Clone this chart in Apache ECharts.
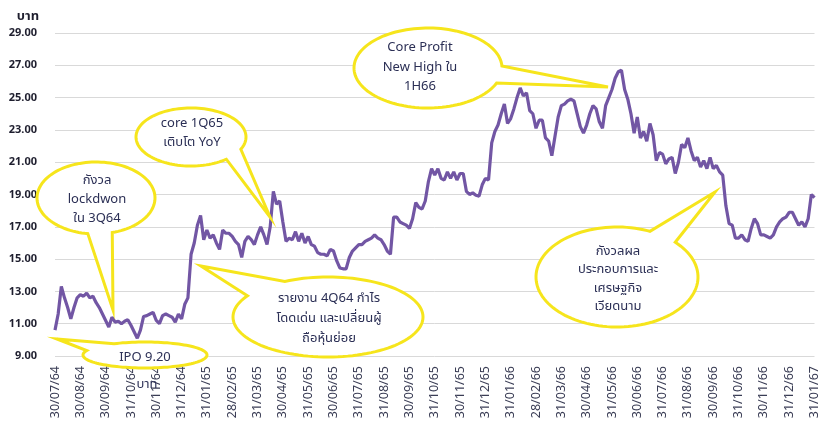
<!DOCTYPE html>
<html>
<head>
<meta charset="utf-8">
<script src="https://cdn.jsdelivr.net/npm/echarts@6/dist/echarts.min.js"></script>
<style>
  html, body { margin: 0; padding: 0; background: #fff; }
  #main { width: 821px; height: 424px; }
</style>
</head>
<body>
<div id="main"></div>
<script>
var dom = document.getElementById('main');
var myChart = echarts.init(dom, null, { renderer: 'canvas' });

// month-end tick labels (Thai Buddhist year)
var monthLabels = ['30/07/64', '30/08/64', '30/09/64', '31/10/64', '30/11/64', '31/12/64',
    '31/01/65', '28/02/65', '31/03/65', '30/04/65', '31/05/65', '30/06/65', '31/07/65',
    '31/08/65', '30/09/65', '31/10/65', '30/11/65', '31/12/65', '31/01/66', '28/02/66',
    '31/03/66', '30/04/66', '31/05/66', '30/06/66', '31/07/66', '31/08/66', '30/09/66',
    '31/10/66', '30/11/66', '31/12/66', '31/01/67'];

// 8 readings per month
var stepsPerMonth = 8;
var prices = [
    10.6, 11.6, 13.3, 12.6, 12.0, 11.3, 12.0, 12.6, 12.8, 12.7,
    12.9, 12.6, 12.7, 12.3, 12.0, 11.6, 11.2, 10.8, 11.4, 11.1,
    11.15, 11.0, 11.15, 11.25, 10.9, 10.5, 10.1, 10.6, 11.45, 11.5,
    11.6, 11.7, 11.2, 11.0, 11.5, 11.6, 11.5, 11.4, 11.1, 11.6,
    11.3, 12.2, 12.6, 15.3, 16.0, 17.1, 17.7, 16.2, 16.8, 16.3,
    16.5, 16.0, 15.6, 16.8, 16.6, 16.6, 16.4, 16.1, 15.9, 15.1,
    16.1, 16.4, 16.2, 15.9, 16.5, 17.0, 16.5, 15.9, 17.0, 19.2,
    18.4, 18.6, 17.3, 16.1, 16.3, 16.2, 16.7, 16.1, 16.6, 16.0,
    16.4, 15.9, 15.8, 15.4, 15.3, 15.3, 15.2, 15.6, 15.5, 14.9,
    14.45, 14.4, 14.4, 15.1, 15.5, 15.7, 15.9, 15.9, 16.1, 16.2,
    16.3, 16.5, 16.3, 16.2, 15.9, 15.5, 15.3, 17.6, 17.6, 17.3,
    17.2, 17.1, 16.9, 17.5, 18.5, 18.2, 18.1, 18.6, 19.8, 20.6,
    20.2, 20.6, 20.0, 19.9, 20.4, 20.0, 20.4, 19.9, 20.3, 20.3,
    19.2, 19.0, 19.1, 18.95, 18.9, 19.6, 20.0, 19.9, 22.2, 22.9,
    23.3, 24.0, 24.6, 23.4, 23.7, 24.3, 25.0, 25.6, 25.1, 25.3,
    24.2, 24.0, 23.1, 23.6, 23.6, 22.5, 22.3, 21.4, 22.6, 23.8,
    24.5, 24.6, 24.8, 24.9, 24.8, 24.0, 23.2, 22.8, 23.3, 24.0,
    24.5, 24.3, 23.5, 23.1, 24.5, 25.0, 25.5, 26.2, 26.6, 26.7,
    25.5, 24.9, 24.0, 22.8, 23.8, 22.5, 22.9, 22.3, 23.4, 22.7,
    21.1, 21.6, 21.5, 20.9, 21.2, 21.3, 20.3, 21.0, 22.1, 21.9,
    22.5, 21.7, 21.1, 21.3, 20.7, 21.1, 20.6, 21.3, 20.6, 20.8,
    20.4, 20.2, 18.3, 17.2, 17.1, 16.3, 16.3, 16.5, 16.2, 16.1,
    16.9, 17.5, 17.2, 16.5, 16.5, 16.4, 16.3, 16.5, 17.0, 17.3,
    17.5, 17.6, 17.9, 17.9, 17.5, 17.1, 17.3, 17.0, 17.5, 19.0,
    18.8
];

var categories = prices.map(function (v, i) {
    return i % stepsPerMonth === 0 ? monthLabels[i / stepsPerMonth] : 'd' + i;
});

var FONT = '"Noto Sans", "Noto Sans Thai", "DejaVu Sans", sans-serif';
var textColor = '#2b2f55';
var yellow = '#f6e51c';

// speech bubble: ellipse + tail towards tip (angles in degrees, screen coords)
function bubble(cx, cy, rx, ry, tip, a1, a2) {
    var pts = [tip];
    for (var a = a2; a <= a1 + 360; a += 3) {
        var r = a * Math.PI / 180;
        pts.push([cx + rx * Math.cos(r), cy + ry * Math.sin(r)]);
    }
    var r1 = a1 * Math.PI / 180;
    pts.push([cx + rx * Math.cos(r1), cy + ry * Math.sin(r1)]);
    return {
        type: 'polygon',
        shape: { points: pts },
        style: { fill: '#fff', stroke: yellow, lineWidth: 3 },
        z: 10
    };
}

function note(x, y, text, lh) {
    return {
        type: 'text', x: x, y: y, z: 11,
        style: {
            text: text, font: '13px ' + FONT, fill: textColor,
            align: 'center', verticalAlign: 'middle', lineHeight: lh || 19
        }
    };
}

var option = {
    animation: false,
    grid: { left: 55, right: 1, top: 33, bottom: 68 },
    xAxis: {
        type: 'category',
        boundaryGap: false,
        data: categories,
        axisLine: { show: false },
        axisTick: { show: false },
        splitLine: { show: false },
        axisLabel: {
            interval: function (idx) { return idx % stepsPerMonth === 0; },
            rotate: 90,
            margin: 10,
            fontSize: 12.5,
            fontFamily: FONT,
            color: '#3a3d55'
        }
    },
    yAxis: {
        type: 'value',
        min: 9,
        max: 29,
        interval: 2,
        axisLine: { show: false },
        axisTick: { show: false },
        splitLine: { lineStyle: { color: '#d9d9d9', width: 1 } },
        axisLabel: {
            margin: 18,
            fontSize: 11,
            fontWeight: 'bold',
            fontFamily: FONT,
            color: '#1e1e2e',
            formatter: function (v) { return v.toFixed(2); }
        }
    },
    series: [{
        type: 'line',
        data: prices,
        symbol: 'none',
        lineStyle: { color: '#7256a4', width: 3.2 },
        z: 5
    }],
    graphic: [
        {
            type: 'text', x: 28, y: 16, z: 11,
            style: { text: 'บาท', font: 'bold 13px ' + FONT, fill: '#1e1e2e', align: 'center', verticalAlign: 'middle' }
        },
        bubble(96, 198, 59, 36, [113, 310], 74, 98),
        note(97, 199, 'กังวล\nlockdwon\nใน 3Q64'),
        bubble(191, 137, 55, 29, [270, 217], 25, 50),
        note(192, 133, 'core 1Q65\nเติบโต YoY'),
        bubble(428, 68, 74, 40, [608, 87], -3, 22),
        note(420, 67, 'Core Profit\nNew High ใน\n1H66', 19.5),
        bubble(328, 317, 95, 40, [201, 266], 212, 243),
        note(329, 318, 'รายงาน 4Q64 กำไร\nโดดเด่น และเปลี่ยนผู้\nถือหุ้นย่อย', 20),
        bubble(145, 355, 62, 13, [57, 339], 200, 240),
        note(145, 357, 'IPO 9.20'),
        note(147, 384, 'บาท'),
        bubble(617, 277, 81, 50, [715, 192], 294, 316),
        note(618, 279, 'กังวลผล\nประกอบการและ\nเศรษฐกิจ\nเวียดนาม', 18.5)
    ]
};

myChart.setOption(option);
window.addEventListener('resize', myChart.resize);
</script>
</body>
</html>
